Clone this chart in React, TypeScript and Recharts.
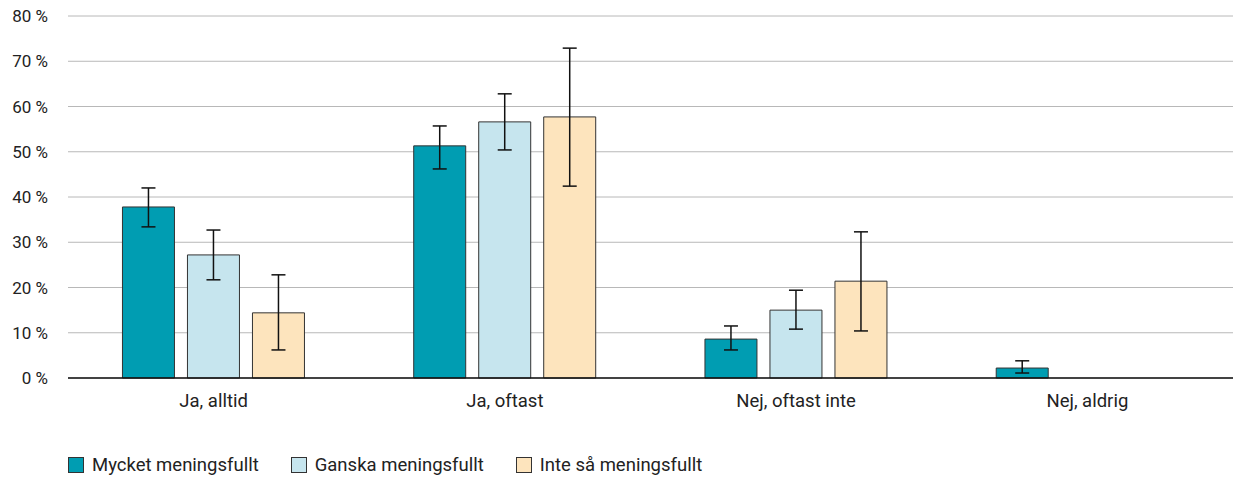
import React from "react";
import { Bar, BarChart, CartesianGrid, ErrorBar, Legend, XAxis, YAxis } from "recharts";

const categories = ["Ja, alltid", "Ja, oftast", "Nej, oftast inte", "Nej, aldrig"];

const mycket = [37.8, 51.3, 8.6, 2.2];
const mycketLow = [33.4, 46.2, 6.2, 1.1];
const mycketHigh = [42, 55.7, 11.5, 3.8];

const ganska: (number | null)[] = [27.2, 56.6, 15, null];
const ganskaLow = [21.7, 50.4, 10.8, 0];
const ganskaHigh = [32.7, 62.8, 19.4, 0];

const inte: (number | null)[] = [14.4, 57.7, 21.4, null];
const inteLow = [6.2, 42.4, 10.4, 0];
const inteHigh = [22.8, 72.9, 32.3, 0];

const yTicks = [0, 10, 20, 30, 40, 50, 60, 70, 80];

const SERIES = [
  { key: "mycket", label: "Mycket meningsfullt", color: "#009db2" },
  { key: "ganska", label: "Ganska meningsfullt", color: "#c6e5ee" },
  { key: "inte", label: "Inte så meningsfullt", color: "#fde4bd" },
];

const err = (v: number | null, lo: number, hi: number) =>
  v == null ? null : [v - lo, hi - v];

const data = categories.map((name, i) => ({
  name,
  mycket: mycket[i],
  mycketErr: err(mycket[i], mycketLow[i], mycketHigh[i]),
  ganska: ganska[i],
  ganskaErr: err(ganska[i], ganskaLow[i], ganskaHigh[i]),
  inte: inte[i],
  inteErr: err(inte[i], inteLow[i], inteHigh[i]),
}));

const font = "Roboto, sans-serif";
const textColor = "#222";

function XTick({ x, y, payload }: any) {
  return (
    <text
      x={x}
      y={y + 27}
      textAnchor="middle"
      fill={textColor}
      style={{ fontSize: "18.5px", fontFamily: font }}
    >
      {payload.value}
    </text>
  );
}

function YTick({ x, y, payload }: any) {
  return (
    <text
      x={x - 18}
      y={y + 6}
      textAnchor="end"
      fill={textColor}
      style={{ fontSize: "17px", fontFamily: font }}
    >
      {`${payload.value} %`}
    </text>
  );
}

function LegendContent() {
  return (
    <div
      style={{
        height: 54,
        display: "flex",
        alignItems: "flex-end",
        paddingBottom: 1,
        boxSizing: "border-box",
        fontFamily: font,
        fontSize: 18.5,
        color: textColor,
      }}
    >
      {SERIES.map((s) => (
        <div key={s.key} style={{ display: "flex", alignItems: "center", marginRight: 32 }}>
          <span
            style={{
              width: 14,
              height: 14,
              background: s.color,
              border: "1px solid #333",
              marginRight: 8,
              display: "inline-block",
            }}
          />
          <span>{s.label}</span>
        </div>
      ))}
    </div>
  );
}

export default function App() {
  return (
    <div style={{ position: "absolute", left: 0, top: 0, background: "#fff" }}>
      <BarChart
        width={1233}
        height={477}
        data={data}
        margin={{ top: 16, right: 0, bottom: 0, left: 0 }}
        barCategoryGap="18.7%"
        barGap={13}
      >
        <CartesianGrid vertical={false} stroke="#b8b8b8" strokeWidth={1} />
        <XAxis
          dataKey="name"
          height={45}
          tickLine={false}
          tickSize={0}
          axisLine={{ stroke: "#111", strokeWidth: 1.5 }}
          tick={<XTick />}
        />
        <YAxis
          width={68}
          domain={[0, 80]}
          ticks={yTicks}
          interval={0}
          axisLine={false}
          tickLine={false}
          tickSize={0}
          tick={<YTick />}
        />
        <Legend
          verticalAlign="bottom"
          align="left"
          content={<LegendContent />}
          wrapperStyle={{ left: 68, height: 54 }}
        />
        {SERIES.map((s) => (
          <Bar
            key={s.key}
            dataKey={s.key}
            name={s.label}
            fill={s.color}
            stroke="#333"
            strokeWidth={1}
            isAnimationActive={false}
          >
            <ErrorBar
              dataKey={`${s.key}Err`}
              width={7}
              stroke="#111"
              strokeWidth={1.5}
              direction="y"
            />
          </Bar>
        ))}
      </BarChart>
    </div>
  );
}
